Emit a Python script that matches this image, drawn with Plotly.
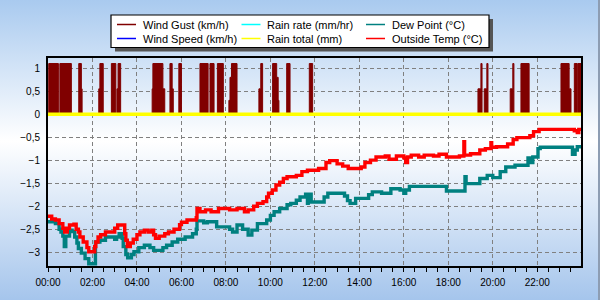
import base64
import plotly.graph_objects as go

DAY = "2024-01-01 "

# ---------------- data ----------------
gust_times = ["00:00", "00:02", "00:28", "00:32", "01:03", "01:23", "01:30", "01:32",
              "02:17", "02:20", "02:29", "02:51", "03:03", "03:06", "03:09", "03:16",
              "04:41", "04:43", "05:10", "05:15", "05:29", "05:35", "05:38", "05:53", "06:00",
              "06:50", "07:12", "07:17", "07:28", "07:37", "07:53",
              "08:08", "08:11", "08:15", "08:30", "09:29", "09:34", "09:39",
              "10:06", "10:17", "10:21", "10:23", "10:44", "10:53", "11:45", "11:54",
              "19:20", "19:28", "19:31", "19:37", "19:44", "19:47",
              "20:47", "20:54", "20:57", "21:16", "21:38",
              "23:04", "23:26", "23:31", "23:40", "23:48", "23:50", "23:59"]
gust_values = [0, 1.1, 0, 1.1, 0, 1.1, 0.55, 0,
               0.55, 1.1, 0, 1.1, 0, 0.55, 1.1, 0,
               0.55, 1.1, 0.55, 0, 1.1, 0.55, 0, 1.1, 0,
               1.1, 0, 1.1, 0, 1.1, 0,
               0.3, 0.8, 1.1, 0, 0.55, 1.1, 0,
               1.1, 0.8, 0.3, 0, 1.1, 0, 1.1, 0,
               0.55, 1.1, 0, 0.55, 1.1, 0,
               0.55, 1.1, 0, 1.1, 0,
               1.1, 0.55, 0, 1.1, 0, 1.1, 1.1]

flat_times = ["00:00", "23:59"]
wind_speed = [0, 0]
rain_rate = [0, 0]
rain_total = [0, 0]

temp_times = ["00:00", "00:10", "00:20", "00:30", "00:40", "00:45", "00:52", "00:58", "01:10", "01:16",
              "01:22", "01:26", "01:35", "01:45", "01:50", "02:06", "02:09", "02:15", "02:22", "02:35",
              "03:00", "03:08", "03:27", "03:30", "03:34", "03:42", "03:50", "04:00", "04:08", "04:20",
              "04:30", "04:40", "04:45", "04:50", "05:00", "05:15", "05:25", "05:40", "05:55", "06:00",
              "06:15", "06:40", "06:42", "06:50", "07:05", "07:20", "07:40", "08:10", "08:30", "08:50",
              "09:00", "09:15", "09:25", "09:40", "09:50", "09:55", "10:05", "10:15", "10:25", "10:35",
              "10:45", "11:10", "11:25", "11:40", "12:10", "12:30", "12:40", "13:00", "13:15", "13:30",
              "14:05", "14:15", "14:30", "14:45", "15:10", "15:20", "15:40", "16:00", "16:05", "16:10",
              "16:20", "16:40", "16:55", "17:20", "17:35", "17:55", "18:30", "18:42", "18:44", "19:00",
              "19:25", "19:40", "19:55", "19:57", "20:10", "20:40", "20:55", "21:05", "21:40", "21:50",
              "22:05", "23:40", "23:48", "23:52", "23:59"]
temp_values = [-2.22, -2.28, -2.30, -2.38, -2.48, -2.56, -2.48, -2.41, -2.39, -2.50,
               -2.56, -2.67, -2.78, -2.90, -2.99, -2.88, -2.78, -2.67, -2.62, -2.56,
               -2.48, -2.41, -2.60, -2.74, -2.88, -2.80, -2.72, -2.62, -2.56, -2.52,
               -2.56, -2.52, -2.62, -2.70, -2.65, -2.60, -2.56, -2.50, -2.40, -2.35,
               -2.30, -2.25, -2.05, -2.12, -2.08, -2.12, -2.05, -2.08, -2.05, -2.12,
               -2.08, -2.00, -1.94, -1.90, -1.80, -1.72, -1.65, -1.54, -1.48, -1.40,
               -1.36, -1.33, -1.25, -1.22, -1.18, -1.05, -1.01, -1.08, -1.13, -1.18,
               -1.15, -1.05, -1.00, -0.93, -0.91, -0.98, -0.91, -0.95, -1.05, -0.93,
               -0.89, -0.93, -0.89, -0.91, -0.87, -0.93, -0.91, -0.60, -0.89, -0.86,
               -0.78, -0.75, -0.62, -0.72, -0.71, -0.65, -0.55, -0.51, -0.47, -0.38,
               -0.33, -0.36, -0.40, -0.33, -0.33]

dew_times = ["00:00", "00:20", "00:30", "00:35", "00:40", "00:44", "00:48", "00:58", "01:05", "01:12",
             "01:18", "01:22", "01:30", "01:40", "01:50", "02:08", "02:20", "02:35", "03:00", "03:05",
             "03:12", "03:20", "03:23", "03:30", "03:35", "03:45", "03:52", "04:05", "04:20", "04:35",
             "04:45", "05:10", "05:20", "05:35", "05:50", "06:10", "06:30", "06:40", "06:42", "07:00",
             "07:10", "07:35", "08:10", "08:18", "08:30", "08:45", "09:00", "09:10", "09:25", "09:50",
             "10:00", "10:10", "10:25", "10:45", "10:55", "11:10", "11:20", "11:35", "11:40", "11:42",
             "11:50", "12:25", "12:35", "13:20", "13:28", "13:35", "13:50", "14:25", "14:35", "15:00",
             "15:25", "15:50", "16:00", "16:05", "16:15", "17:55", "18:45", "18:48", "19:25", "19:45",
             "20:00", "20:20", "20:35", "21:00", "21:35", "21:40", "21:48", "22:02", "22:08", "23:35",
             "23:42", "23:48", "23:59"]
dew_values = [-2.34, -2.38, -2.50, -2.56, -2.65, -2.88, -2.65, -2.52, -2.55, -2.67,
              -2.80, -2.92, -3.02, -3.14, -3.25, -2.78, -2.74, -2.67, -2.72, -2.67,
              -2.60, -2.70, -2.88, -3.05, -3.12, -3.05, -2.99, -2.90, -2.85, -2.90,
              -2.96, -2.90, -2.85, -2.78, -2.72, -2.67, -2.60, -2.50, -2.32, -2.36,
              -2.34, -2.45, -2.50, -2.56, -2.41, -2.50, -2.63, -2.52, -2.38, -2.30,
              -2.20, -2.12, -2.05, -1.97, -1.94, -1.87, -1.80, -1.74, -1.94, -1.74,
              -1.91, -1.80, -1.72, -1.78, -1.88, -1.94, -1.83, -1.75, -1.69, -1.72,
              -1.62, -1.65, -1.72, -1.65, -1.57, -1.67, -1.36, -1.51, -1.40, -1.33,
              -1.38, -1.25, -1.15, -1.11, -0.95, -1.05, -0.93, -0.75, -0.72, -0.87,
              -0.78, -0.71, -0.71]

y_ticks = [1, 0.5, 0, -0.5, -1, -1.5, -2, -2.5, -3]

legend_names = ["Wind Gust (km/h)", "Wind Speed (km/h)", "Rain rate (mm/hr)",
                "Rain total (mm)", "Dew Point (°C)", "Outside Temp (°C)"]
legend_colors = ["#800000", "#0000ff", "#00ffff", "#ffff00", "#008080", "#ff0000"]


def ts(lst):
    return [DAY + t for t in lst]


# ---------------- figure ----------------
W, H = 600, 300
L, R, T, B = 48, 19, 58, 34
PW, PH = W - L - R, H - T - B


def px(x):
    return (x - L) / PW


def py(y):
    return (H - B - y) / PH


fig = go.Figure()
fig.add_trace(go.Scatter(x=ts(gust_times), y=gust_values, mode="lines", line_shape="hv",
                         line=dict(color="#800000", width=1), fill="tozeroy",
                         fillcolor="#800000", showlegend=False, hoverinfo="skip"))
fig.add_trace(go.Scatter(x=ts(flat_times), y=wind_speed, mode="lines",
                         line=dict(color="#0000ff", width=2), showlegend=False))
fig.add_trace(go.Scatter(x=ts(flat_times), y=rain_rate, mode="lines",
                         line=dict(color="#00ffff", width=2), showlegend=False))
fig.add_trace(go.Scatter(x=ts(flat_times), y=rain_total, mode="lines",
                         line=dict(color="#ffff00", width=3.5), showlegend=False))
fig.add_trace(go.Scatter(x=ts(dew_times), y=dew_values, mode="lines", line_shape="hv",
                         line=dict(color="#008080", width=3.4), showlegend=False))
fig.add_trace(go.Scatter(x=ts(temp_times), y=temp_values, mode="lines", line_shape="hv",
                         line=dict(color="#ff0000", width=3.4), showlegend=False))

# background gradient
svg = ('<svg xmlns="http://www.w3.org/2000/svg" width="600" height="300" preserveAspectRatio="none">'
       '<defs><linearGradient id="g" x1="0" y1="0" x2="0" y2="1">'
       '<stop offset="0" stop-color="#a9caef"/><stop offset="0.47" stop-color="#ffffff"/>'
       '<stop offset="1" stop-color="#a5c5ec"/></linearGradient></defs>'
       '<rect width="600" height="300" fill="url(#g)"/></svg>')
src = "data:image/svg+xml;base64," + base64.b64encode(svg.encode()).decode()
fig.add_layout_image(dict(source=src, xref="paper", yref="paper", x=px(0), y=py(0),
                          sizex=W / PW, sizey=H / PH, xanchor="left", yanchor="top",
                          sizing="stretch", layer="below"))

shapes = []
annotations = []
# window border on right
shapes.append(dict(type="rect", xref="paper", yref="paper", x0=px(598), x1=px(600), y0=py(0), y1=py(300),
                   fillcolor="#8d9db3", line=dict(width=0), layer="above"))
# legend box with shadow
lx0, lx1, ly0, ly1 = 111, 489, 15, 47.5
shapes.append(dict(type="rect", xref="paper", yref="paper", x0=px(lx0 + 4), x1=px(lx1 + 4),
                   y0=py(ly0 + 4), y1=py(ly1 + 4), fillcolor="#555555", line=dict(width=0), layer="above"))
shapes.append(dict(type="rect", xref="paper", yref="paper", x0=px(lx0), x1=px(lx1),
                   y0=py(ly0), y1=py(ly1), fillcolor="#ffffff", line=dict(color="#000000", width=1.2),
                   layer="above"))
col_line_x = [117, 241.5, 366]
col_text_x = [140.5, 265, 389.5]
row_y = [24.5, 38.5]
for i, (name, color) in enumerate(zip(legend_names, legend_colors)):
    c, r = i // 2, i % 2
    shapes.append(dict(type="line", xref="paper", yref="paper", x0=px(col_line_x[c]),
                       x1=px(col_line_x[c] + 19), y0=py(row_y[r]), y1=py(row_y[r]),
                       line=dict(color=color, width=1.5), layer="above"))
    annotations.append(dict(text=name, xref="paper", yref="paper", x=px(col_text_x[c]), y=py(row_y[r]),
                            xanchor="left", yanchor="middle", showarrow=False,
                            font=dict(family="Liberation Sans, Arial", size=11, color="#000000")))

fig.update_layout(
    width=W, height=H,
    margin=dict(l=L, r=R, t=T, b=B, pad=0),
    paper_bgcolor="#dfeaf8",
    plot_bgcolor="rgba(0,0,0,0)",
    separators=",.",
    font=dict(family="Liberation Sans, Arial", size=10, color="#000000"),
    shapes=shapes,
    annotations=annotations,
    showlegend=False,
    xaxis=dict(type="date", range=[DAY + "00:00", DAY + "23:58"],
               tick0=DAY + "00:00", dtick=2 * 3600 * 1000, tickformat="%H:%M",
               showgrid=True, gridcolor="#808080", griddash="4px,3px", gridwidth=1,
               showline=True, linecolor="#000000", linewidth=2, mirror=True,
               ticks="outside", ticklen=4, tickcolor="#000000", tickwidth=1,
               minor=dict(dtick=30 * 60 * 1000, ticks="outside", ticklen=4, tickcolor="#000000",
                          showgrid=False),
               zeroline=False, ticklabelstandoff=2,
               tickfont=dict(size=10)),
    yaxis=dict(range=[-3.3, 1.22], tickvals=y_ticks, tickformat=".1~f",
               showgrid=True, gridcolor="#808080", griddash="4px,3px", gridwidth=1,
               showline=True, linecolor="#000000", linewidth=2, mirror=True,
               ticks="", zeroline=False, ticklabelstandoff=4, tickfont=dict(size=10)),
)

fig.write_html("out.html")
